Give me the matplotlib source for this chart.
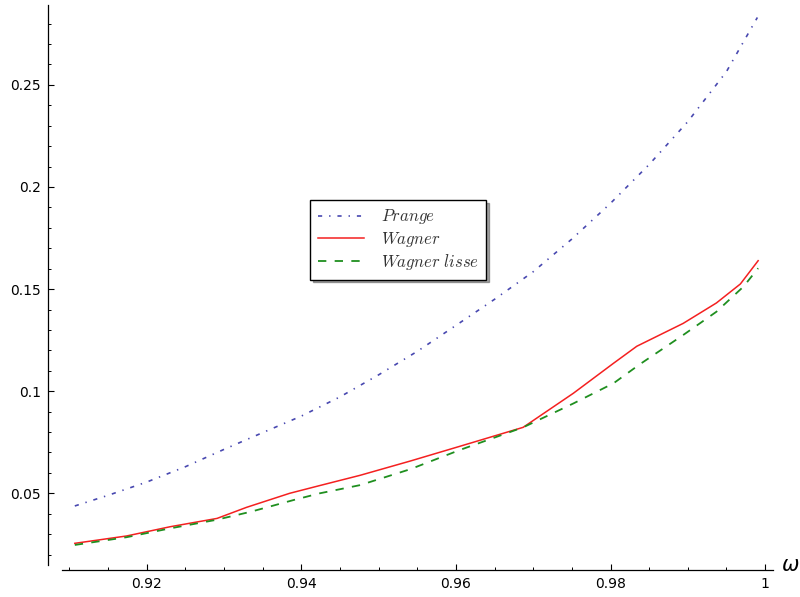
import matplotlib
matplotlib.use("Agg")
import matplotlib.pyplot as plt
from matplotlib.ticker import MultipleLocator, FuncFormatter

# ---- data ----
prange_x = [0.9107, 0.915, 0.920, 0.925, 0.930, 0.935, 0.940, 0.945, 0.950,
            0.955, 0.960, 0.965, 0.970, 0.975, 0.980, 0.985, 0.990, 0.995, 0.999]
prange_y = [0.0438, 0.0490, 0.0555, 0.0630, 0.0715, 0.0797, 0.0878, 0.0972, 0.1080,
            0.1195, 0.1322, 0.1450, 0.1585, 0.1745, 0.1920, 0.2110, 0.2320, 0.2565, 0.2830]

wagner_x = [0.9107, 0.9174, 0.9230, 0.9291, 0.9329, 0.9385, 0.9424, 0.9476, 0.9541,
            0.9605, 0.9687, 0.9752, 0.9804, 0.9834, 0.9894, 0.9937, 0.9968, 0.9991]
wagner_y = [0.0255, 0.0291, 0.0336, 0.0377, 0.0431, 0.0500, 0.0538, 0.0588, 0.0658,
            0.0730, 0.0823, 0.0990, 0.1137, 0.1220, 0.1332, 0.1432, 0.1525, 0.1639]

lisse_x = [0.9107, 0.9174, 0.9230, 0.9290, 0.9335, 0.9390, 0.9424, 0.9476, 0.9541,
           0.9605, 0.9687, 0.9752, 0.9804, 0.9838, 0.9894, 0.9937, 0.9972, 0.9991]
lisse_y = [0.0247, 0.0285, 0.0328, 0.0370, 0.0410, 0.0467, 0.0500, 0.0540, 0.0618,
           0.0712, 0.0823, 0.0940, 0.1039, 0.1132, 0.1275, 0.1389, 0.1512, 0.1602]

labels = [r"$Prange$", r"$Wagner$", r"$Wagner\ lisse$"]
x_label = "ω"

plt.rcParams["mathtext.fontset"] = "cm"
plt.rcParams["lines.scale_dashes"] = False

fig = plt.figure(figsize=(8.0, 5.97), dpi=100)
ax = fig.add_axes([48/800, 27/597, 728.7/800, 566.2/597])
ax.set_xlim(0.907232, 1.0015)
ax.set_ylim(0.012439, 0.2897)

ax.plot(prange_x, prange_y, color="#4848b0", lw=1.2, dashes=(3, 5, 1, 5), label=labels[0])
ax.plot(wagner_x, wagner_y, color="#f42020", lw=1.1, label=labels[1])
ax.plot(lisse_x, lisse_y, color="#1f8f1f", lw=1.3, dashes=(6, 6), label=labels[2])

for s in ["top", "right"]:
    ax.spines[s].set_visible(False)
ax.spines["bottom"].set_bounds(0.909, 1.001)
ax.spines["left"].set_bounds(0.0148, 0.2893)
for s in ["bottom", "left"]:
    ax.spines[s].set_linewidth(0.9)

ax.xaxis.set_major_locator(MultipleLocator(0.02))
ax.xaxis.set_minor_locator(MultipleLocator(0.005))
ax.yaxis.set_major_locator(MultipleLocator(0.05))
ax.yaxis.set_minor_locator(MultipleLocator(0.01))
fmt = FuncFormatter(lambda v, p: ("%g" % round(v, 4)))
ax.xaxis.set_major_formatter(fmt)
ax.yaxis.set_major_formatter(fmt)
ax.tick_params(which="major", direction="in", length=4.5, width=0.8, labelsize=10, pad=5)
ax.tick_params(which="minor", direction="in", length=2.2, width=0.7)

fig.text(791/800, 1 - 565/597, x_label, fontsize=15, style="italic",
         family="DejaVu Sans", ha="center", va="center")

leg = ax.legend(loc="upper left", bbox_to_anchor=(310/800, 1 - 200/597),
                bbox_transform=fig.transFigure, borderaxespad=0, fancybox=False,
                shadow=True, fontsize=12, handlelength=2.8, labelspacing=0.2,
                borderpad=0.45, handletextpad=1.0)
leg.get_frame().set_edgecolor("black")
leg.get_frame().set_linewidth(1.0)
for t in leg.get_texts():
    t.set_color("#333333")

fig.savefig("out.png", dpi=100)
